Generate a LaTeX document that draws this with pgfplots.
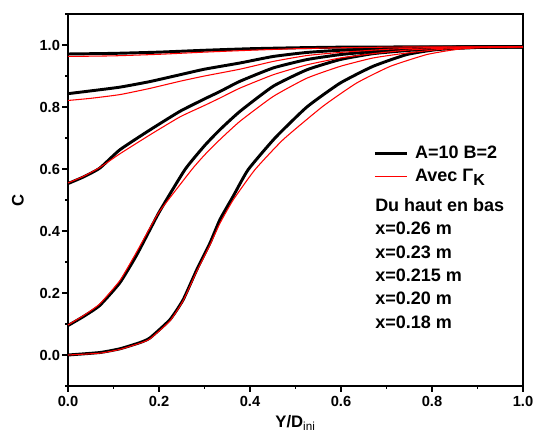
\documentclass[border=0pt]{standalone}
\usepackage{fontspec}
\setmainfont{Liberation Sans}
\usepackage{pgfplots}
\pgfplotsset{compat=1.18}
\begin{document}
\begin{tikzpicture}
\useasboundingbox (-51pt,-37.5pt) rectangle (351.75pt,289.5pt);
\begin{axis}[
  scale only axis, width=341.25pt, height=279pt,
  xmin=0, xmax=1, ymin=-0.1, ymax=1.1,
  clip=false,
  xtick={0,0.2,0.4,0.6,0.8,1.0}, ytick={0,0.2,0.4,0.6,0.8,1.0},
  xtick pos=left, ytick pos=left,
  tick style={draw=none},
  axis line style={line width=1.5pt},
  ticklabel style={font=\bfseries\fontsize{11}{13}\selectfont},
  xticklabel style={yshift=-4.5pt},
  yticklabel style={xshift=-2.5pt},
  xticklabel={\pgfmathprintnumber[fixed,fixed zerofill,precision=1,assume math mode=true]{\tick}},
  yticklabel={\pgfmathprintnumber[fixed,fixed zerofill,precision=1,assume math mode=true]{\tick}},
  xlabel={Y/D\textsubscript{\mdseries ini}}, ylabel={C},
  label style={font=\bfseries\fontsize{12.5}{14}\selectfont},
  xlabel style={at={(axis description cs:0.5,-0.111)}, anchor=base},
  ylabel style={at={(axis description cs:-0.11,0.5)}, anchor=center},
  legend cell align=left,
  legend style={draw=none, fill=none, at={(rel axis cs:0.662,0.66)}, anchor=north west,
    font=\bfseries\fontsize{13.5}{16}\selectfont, row sep=2.5pt,
    nodes={inner sep=2pt}},
  legend image code/.code={\draw[#1] (0pt,0pt) -- (24pt,0pt);},
  every axis plot/.append style={line join=round, smooth, tension=0.3},
]
% tick marks (outside)
\pgfplotsinvokeforeach{0,0.2,0.4,0.6,0.8,1}{\draw[black, line width=1.4pt] (axis cs:#1,-0.1) -- ++(0pt,-4.5pt);}
\pgfplotsinvokeforeach{0.1,0.3,0.5,0.7,0.9}{\draw[black, line width=1.4pt] (axis cs:#1,-0.1) -- ++(0pt,-2.6pt);}
\pgfplotsinvokeforeach{0,0.2,0.4,0.6,0.8,1}{\draw[black, line width=1.4pt] (axis cs:0,#1) -- ++(-4.5pt,0pt);}
\pgfplotsinvokeforeach{-0.1,0.1,0.3,0.5,0.7,0.9,1.1}{\draw[black, line width=1.4pt] (axis cs:0,#1) -- ++(-2.6pt,0pt);}
% black curves A=10 B=2
\addplot[black, line width=2.2pt] coordinates {
(0,0.971) (0.1,0.973) (0.2,0.977) (0.3,0.983) (0.4,0.988) (0.5,0.991) (0.6,0.993) (0.8,0.994) (1.0,0.994)};
\addlegendentry{\hspace{3pt}A=10 B=2}
\addplot[black, line width=2.2pt, forget plot] coordinates {
(0,0.843) (0.05,0.852) (0.114,0.864) (0.18,0.882) (0.246,0.904) (0.3,0.922) (0.378,0.942) (0.451,0.963) (0.525,0.976) (0.598,0.983) (0.7,0.989) (0.8,0.993) (0.9,0.994) (1,0.994)};
\addplot[black, line width=2.2pt, forget plot] coordinates {
(0,0.553) (0.035,0.575) (0.07,0.603) (0.114,0.662) (0.18,0.726) (0.246,0.786) (0.3,0.826) (0.334,0.85) (0.378,0.883) (0.451,0.926) (0.525,0.953) (0.598,0.969) (0.67,0.979) (0.75,0.988) (0.85,0.993) (1,0.994)};
\addplot[black, line width=2.2pt, forget plot] coordinates {
(0,0.095) (0.035,0.125) (0.07,0.16) (0.114,0.233) (0.15,0.32) (0.18,0.404) (0.202,0.465) (0.257,0.598) (0.3,0.675) (0.334,0.727) (0.378,0.786) (0.451,0.867) (0.525,0.92) (0.598,0.953) (0.67,0.972) (0.744,0.982) (0.82,0.99) (0.9,0.994) (1,0.994)};
\addplot[black, line width=2.2pt, forget plot] coordinates {
(0,0.0) (0.07,0.008) (0.114,0.02) (0.158,0.04) (0.18,0.055) (0.224,0.114) (0.253,0.178) (0.283,0.275) (0.312,0.361) (0.334,0.437) (0.363,0.512) (0.396,0.598) (0.455,0.70) (0.525,0.80) (0.598,0.877) (0.67,0.931) (0.744,0.969) (0.81,0.985) (0.9,0.992) (1,0.994)};
% red curves Avec Gamma_K
\addplot[red, line width=0.8pt] coordinates {
(0,0.963) (0.1,0.965) (0.2,0.970) (0.3,0.977) (0.4,0.983) (0.5,0.988) (0.6,0.991) (0.7,0.993) (0.8,0.994) (1.0,0.994)};
\addlegendentry{\hspace{3pt}Avec Γ\raisebox{-0.35ex}{\fontsize{12}{12}\selectfont K}}
\addplot[red, line width=0.8pt, forget plot] coordinates {
(0,0.821) (0.05,0.828) (0.114,0.84) (0.18,0.86) (0.246,0.883) (0.3,0.9) (0.378,0.922) (0.451,0.947) (0.525,0.966) (0.598,0.976) (0.7,0.986) (0.8,0.992) (0.9,0.994) (1,0.994)};
\addplot[red, line width=0.8pt, forget plot] coordinates {
(0,0.555) (0.035,0.577) (0.07,0.605) (0.114,0.649) (0.18,0.71) (0.246,0.768) (0.3,0.805) (0.334,0.829) (0.378,0.861) (0.451,0.904) (0.525,0.936) (0.598,0.958) (0.67,0.972) (0.75,0.984) (0.85,0.991) (1,0.994)};
\addplot[red, line width=0.8pt, forget plot] coordinates {
(0,0.097) (0.035,0.128) (0.07,0.165) (0.114,0.24) (0.15,0.33) (0.18,0.41) (0.202,0.465) (0.272,0.598) (0.3,0.645) (0.334,0.695) (0.378,0.754) (0.451,0.834) (0.525,0.893) (0.598,0.931) (0.67,0.958) (0.744,0.974) (0.82,0.986) (0.9,0.992) (1,0.994)};
\addplot[red, line width=0.8pt, forget plot] coordinates {
(0,0.0) (0.07,0.006) (0.114,0.018) (0.158,0.038) (0.18,0.052) (0.224,0.11) (0.253,0.175) (0.283,0.27) (0.312,0.355) (0.334,0.425) (0.363,0.5) (0.411,0.598) (0.473,0.695) (0.56,0.802) (0.634,0.877) (0.708,0.931) (0.788,0.969) (0.85,0.985) (0.9,0.991) (1,0.994)};
\node[anchor=north west, align=left, inner sep=0pt,
  font=\bfseries\fontsize{13.5}{17.5}\selectfont]
  at (rel axis cs:0.6747,0.505) {Du haut en bas\\x=0.26 m\\x=0.23 m\\x=0.215 m\\x=0.20 m\\x=0.18 m};
\end{axis}
\end{tikzpicture}
\end{document}
